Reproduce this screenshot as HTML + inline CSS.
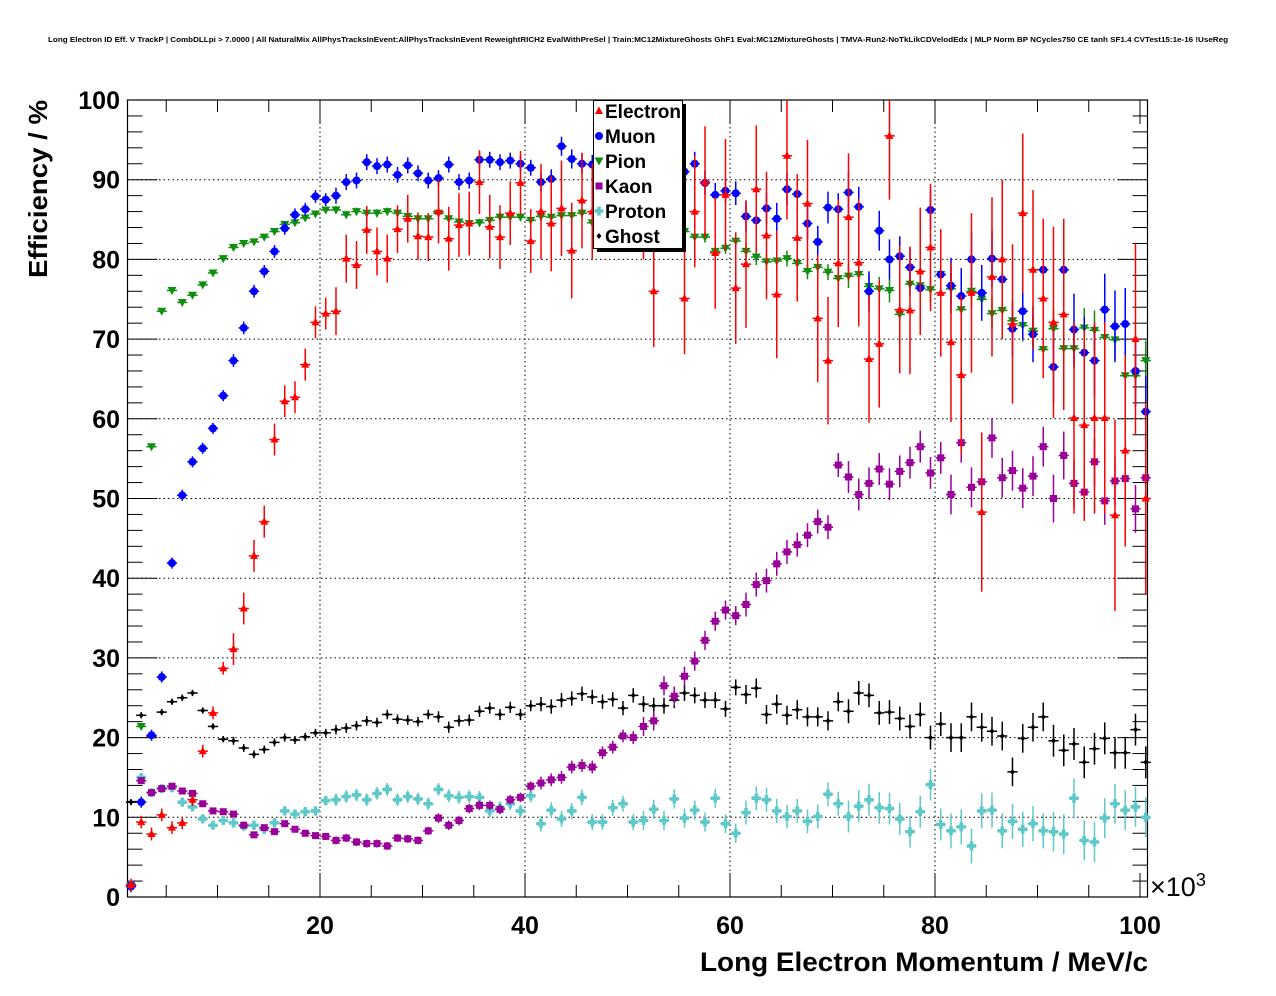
<!DOCTYPE html>
<html><head><meta charset="utf-8">
<style>
html,body{margin:0;padding:0;background:#fff;}
svg{display:block;font-family:"Liberation Sans",Arial,sans-serif;}
</style></head>
<body>
<svg id="chart" width="1276" height="996" viewBox="0 0 1276 996" xmlns="http://www.w3.org/2000/svg">
<rect width="1276" height="996" fill="#fff"/>
<text x="48" y="42" font-size="7.6" font-weight="bold" textLength="1180" lengthAdjust="spacingAndGlyphs">Long Electron ID Eff. V TrackP | CombDLLpi &gt; 7.0000 | All NaturalMix AllPhysTracksInEvent:AllPhysTracksInEvent ReweightRICH2 EvalWithPreSel | Train:MC12MixtureGhosts GhF1 Eval:MC12MixtureGhosts | TMVA-Run2-NoTkLikCDVelodEdx | MLP Norm BP NCycles750 CE tanh SF1.4 CVTest15:1e-16 !UseReg</text>
<g id="grid"></g>
<g id="axes"></g>
<g id="series"></g>
<g id="legend"></g>
<text x="1150" y="896" font-size="27">×10<tspan font-size="18" dy="-10">3</tspan></text>
<text x="700" y="971" font-size="27" font-weight="bold" textLength="448" lengthAdjust="spacingAndGlyphs">Long Electron Momentum / MeV/c</text>
<text transform="translate(47,100) rotate(-90)" font-size="26" font-weight="bold" text-anchor="end" textLength="178" lengthAdjust="spacingAndGlyphs">Efficiency / %</text>
</svg>
<script>
const xTicks = [20, 40, 60, 80, 100];
const yTicks = [0, 10, 20, 30, 40, 50, 60, 70, 80, 90, 100];
const electron = [1.5,9.4,7.9,10.3,8.7,9.3,12.2,18.3,23.1,28.7,31.1,36.2,42.8,47.1,57.4,62.2,62.7,66.8,72.1,73.2,73.5,80.1,79.3,83.7,81,80.1,83.8,85.1,82.9,82.8,86,82.6,84.3,84.5,89.7,84.1,82.8,85.8,89.6,82.3,86,84.5,86.4,81.1,87.4,86,88,88,87,88,87,76,88,88,75.1,86,89.7,80.8,88.1,76.4,79.4,88.8,83,75.6,93,82.7,87,72.6,67.3,79.5,85.3,79.6,67.5,69.4,95.5,73.7,73.6,78.5,81.5,75.8,69.6,65.5,75.8,48.3,77.8,80,71.9,85.8,78.7,75.1,72.1,73.1,60.1,59.2,60.1,60.1,47.9,56,70,50];
const muon = [1.3,11.9,20.3,27.6,41.9,50.4,54.6,56.3,58.8,62.9,67.3,71.4,76,78.5,81,83.9,85.6,86.3,87.9,87.5,88,89.7,89.9,92.2,91.7,91.9,90.6,91.8,90.8,89.9,90.2,91.9,89.7,89.9,92.5,92.5,92.2,92.4,92,91.5,89.7,90.1,94.2,92.6,92,91.9,91,91,91,91,91,91,91,91,91,92,89.6,88.1,88.6,88.3,85.4,84.9,86.4,85.1,88.8,88.2,84.5,82.2,86.5,86.3,88.4,86.6,76,83.6,80,80.4,79,76.4,86.2,78.1,76.7,75.4,80,75.8,80.1,77.5,71.3,73.5,70.6,78.7,66.5,78.7,71.2,68.3,67.3,73.7,71.6,71.9,66,60.9];
const pion = [1.3,21.4,56.5,73.5,76.1,74.6,75.5,76.8,78.3,80.1,81.5,82,82.2,82.8,83.5,84.4,84.6,85.2,85.7,86.2,86.2,85.6,86,85.8,85.8,86,85.8,85.4,85.1,85.1,85.8,85.1,84.7,84.5,84.6,84.9,85.3,85.3,85.3,84.9,85.4,85.3,85.5,85.5,85.8,84.6,85,85,85,84.5,84.5,84.5,84,84,83.5,82.8,82.8,81,81.4,82.3,81,80.3,79.7,79.8,80.1,79.5,78.5,79,78.4,77.6,77.9,78.1,76.6,76.3,76.1,73.1,76.9,76.7,76.2,78.1,76.3,73.7,76,75,73.2,73.6,72.3,71.7,71,68.7,71.3,68.8,68.8,71.4,71.1,70.2,69.9,65.4,65.4,67.3];
const kaon = [1.5,14.6,13.1,13.6,13.9,13.3,13,11.7,10.8,10.7,10.4,9,7.8,8.7,8.2,9.2,8.5,8,7.7,7.6,7.1,7.4,6.9,6.7,6.7,6.4,7.4,7.3,7.1,8.3,9.9,9,9.6,11.1,11.5,11.5,11,12.2,12.5,13.9,14.3,14.7,15,16.3,16.5,16.3,18.1,18.8,20.2,20,21.4,22.1,26.5,25.2,27.7,29.6,32.2,34.6,36,35.3,36.7,39.2,39.7,41.8,43.3,44.2,45.4,47.1,46.4,54.2,52.7,50.5,51.9,53.7,51.8,53.4,54.5,56.5,53.2,55.1,50.5,57,51.4,52.1,57.6,52.6,53.5,51.3,52.8,56.5,50,55.4,51.9,50.8,54.6,49.7,52.2,52.5,48.7,52.6];
const proton = [1.6,15,13.1,13.6,13.7,11.9,11.3,9.8,9,9.6,9.3,8.9,9,8.5,9.3,10.8,10.4,10.7,10.8,12.1,12.2,12.6,12.8,12.2,13,13.5,12.2,12.6,12.3,11.7,13.5,12.7,12.5,12.6,12.5,10.8,11.2,11.7,10.8,12.7,9.2,10.9,9.8,10.8,12.5,9.4,9.4,11.2,11.7,9.4,9.6,11,9.6,12.3,9.9,10.9,9.4,12.4,9.2,8,10.6,12.4,12.2,10.8,10.1,10.8,9.5,10.1,12.9,11.7,10.1,11.4,12.2,11.2,11.1,9.8,8.2,10.7,14.1,9.1,8.3,8.8,6.4,10.8,10.9,8.3,9.5,8.5,9.2,8.3,8.2,7.9,12.4,7.1,6.9,9.9,11.7,10.9,11.3,10];
const ghost = [11.9,22.8,20.2,23.2,24.5,25,25.6,23.4,21.4,19.8,19.6,18.7,17.9,18.5,19.4,20,19.7,20.1,20.6,20.6,21,21.2,21.5,22.1,21.9,22.9,22.3,22.2,22,22.9,22.6,21.3,22.1,22.2,23.3,23.7,22.9,23.8,22.9,24,24.2,23.9,24.7,24.9,25.5,25.1,24.5,24.8,23.7,25.3,24.2,24,24,24.7,25.6,25.3,24.7,24.7,23.6,26.3,25.4,26.2,22.9,24.2,22.8,23.5,22.6,22.6,22.1,24.5,23.3,25.6,25.3,23.1,23.2,22.4,21.4,22.9,20,21.7,20,20,22.6,21.3,20.8,20.2,15.7,19.9,21.3,22.6,19.6,18.4,19.2,16.9,18.6,19.9,18.1,18.1,21,16.9];
// errors per group of 10 bins
const electronErr = [0.8,2,3,4,6,7,8,8,10,12];
const muonErr = [0.7,0.8,1,1,1.2,1.5,2,2.5,3.5,4.5];
const pionErr = [0.4,0.4,0.5,0.5,0.6,0.7,1,1.5,2,2.5];
const kaonErr = [0.4,0.4,0.5,0.6,0.8,1.2,1.5,2,2.5,3];
const protonErr = [0.5,0.6,0.8,0.8,1,1.2,1.5,2,2.2,2.5];
const ghostErr = [0.4,0.5,0.6,0.7,0.9,1,1.2,1.5,1.8,2];
const binStart = 1.06;
const binWidth = 1.0;

const NS = 'http://www.w3.org/2000/svg';
const X0 = 127.5, X1 = 1147.5, Y0 = 897, Y1 = 100;
const XMIN = (127.5-115)/10.25, XMAX = (1147.5-115)/10.25;
function xs(v){ return X0 + (v - XMIN) / (XMAX - XMIN) * (X1 - X0); }
function ys(v){ return Y0 - v / 100 * (Y0 - Y1); }
function mk(tag, attrs, parent){ const e = document.createElementNS(NS, tag); for (const k in attrs) e.setAttribute(k, attrs[k]); parent.appendChild(e); return e; }

const grid = document.getElementById('grid');
const axes = document.getElementById('axes');
xTicks.forEach(t => {
  if (t >= 100) return;
  const l = mk('line', {x1: xs(t), x2: xs(t), y1: Y1, y2: Y0, stroke: '#000', 'stroke-width': 1, 'stroke-dasharray': '1.5,3'}, grid);
  
  
});
yTicks.forEach(t => {
  if (t <= 0 || t >= 100) return;
  const l = mk('line', {x1: X0, x2: X1, y1: ys(t), y2: ys(t), stroke: '#000', 'stroke-width': 1, 'stroke-dasharray': '1.5,3'}, grid);
  
  
});
const frame = mk('rect', {x: X0, y: Y1, width: X1 - X0, height: Y0 - Y1, fill: 'none', stroke: '#000', 'stroke-width': 1.2}, axes);


for (let v = 0; v <= 100; v += 2) {
  const major = v % 10 === 0;
  const len = major ? 30 : 15;
  mk('line', {x1: X0, x2: X0 + len, y1: ys(v), y2: ys(v), stroke: '#000', 'stroke-width': 1}, axes);
  mk('line', {x1: X1, x2: X1 - len, y1: ys(v), y2: ys(v), stroke: '#000', 'stroke-width': 1}, axes);
}
yTicks.forEach(t => {
  const tx = mk('text', {x: 120, y: ys(t) + 9, 'font-size': 25, 'font-weight': 'bold', 'text-anchor': 'end'}, axes);
  tx.textContent = t;
  
  
});
for (let v = 5; v <= 100; v += 5) {
  const major = v % 20 === 0;
  const len = major ? 24 : 12;
  mk('line', {x1: xs(v), x2: xs(v), y1: Y0, y2: Y0 - len, stroke: '#000', 'stroke-width': 1}, axes);
  mk('line', {x1: xs(v), x2: xs(v), y1: Y1, y2: Y1 + len, stroke: '#000', 'stroke-width': 1}, axes);
}
xTicks.forEach(t => {
  const tx = mk('text', {x: xs(t), y: 934, 'font-size': 25, 'font-weight': 'bold', 'text-anchor': 'middle'}, axes);
  tx.textContent = t;
  
  
});

function marker(g, shape, cx, cy, color){
  let e;
  if (shape === 'tu') e = mk('polygon', {points: `${cx},${cy-4.5} ${cx-4},${cy+3} ${cx+4},${cy+3}`, fill: color}, g);
  else if (shape === 'td') e = mk('polygon', {points: `${cx},${cy+4.5} ${cx-4.5},${cy-3.5} ${cx+4.5},${cy-3.5}`, fill: color}, g);
  else if (shape === 'c') e = mk('circle', {cx: cx, cy: cy, r: 4, fill: color}, g);
  else if (shape === 'sq') e = mk('rect', {x: cx - 3.5, y: cy - 3.5, width: 7, height: 7, fill: color}, g);
  else if (shape === 'cr') e = mk('path', {d: `M${cx-1.8},${cy-4.5}h3.6v2.7h2.7v3.6h-2.7v2.7h-3.6v-2.7h-2.7v-3.6h2.7z`, fill: color}, g);
  else e = mk('polygon', {points: `${cx},${cy-3} ${cx+2.5},${cy} ${cx},${cy+3} ${cx-2.5},${cy}`, fill: color}, g);
  return e;
}

const seriesDefs = [
  {name: 'ghost', vals: ghost, err: ghostErr, color: '#000000', shape: 'd'},
  {name: 'proton', vals: proton, err: protonErr, color: '#5fc9c9', shape: 'cr'},
  {name: 'kaon', vals: kaon, err: kaonErr, color: '#990099', shape: 'sq'},
  {name: 'pion', vals: pion, err: pionErr, color: '#0f8f0f', shape: 'td'},
  {name: 'muon', vals: muon, err: muonErr, color: '#0000ff', shape: 'c'},
  {name: 'electron', vals: electron, err: electronErr, color: '#ff0000', shape: 'tu'}
];
const sg = document.getElementById('series');
seriesDefs.forEach(sd => {
  const g = mk('g', {}, sg);
  
  
  sd.vals.forEach((v, i) => {
    const lo = binStart + i * binWidth, hi = lo + binWidth, c = lo + binWidth / 2;
    const e = sd.err[Math.min(9, Math.floor(i / 10))];
    const cx = xs(c), cy = ys(v);
    mk('line', {x1: xs(lo), x2: xs(hi), y1: cy, y2: cy, stroke: sd.color, 'stroke-width': 1.5}, g);
    mk('line', {x1: cx, x2: cx, y1: ys(Math.min(100, v + e)), y2: ys(Math.max(0, v - e)), stroke: sd.color, 'stroke-width': 1.5}, g);
    const m = marker(g, sd.shape, cx, cy, sd.color);
    
    
  });
});

const lg = document.getElementById('legend');
const shadow = mk('rect', {x: 597, y: 104, width: 89, height: 148, fill: '#000'}, lg);


const box = mk('rect', {x: 593.5, y: 100.5, width: 89, height: 148, fill: '#fff', stroke: '#000', 'stroke-width': 1}, lg);


const legendNames = ['Electron', 'Muon', 'Pion', 'Kaon', 'Proton', 'Ghost'];
const legendOrder = [5, 4, 3, 2, 1, 0];
legendNames.forEach((n, k) => {
  const sd = seriesDefs[legendOrder[k]];
  const y = 111 + k * 25;
  const eg = mk('g', {}, lg);
  
  
  marker(eg, sd.shape, 599, y, sd.color);
  const t = mk('text', {x: 605, y: y + 7, 'font-size': 19, 'font-weight': 'bold'}, eg);
  t.textContent = n;
});
</script>
</body></html>
